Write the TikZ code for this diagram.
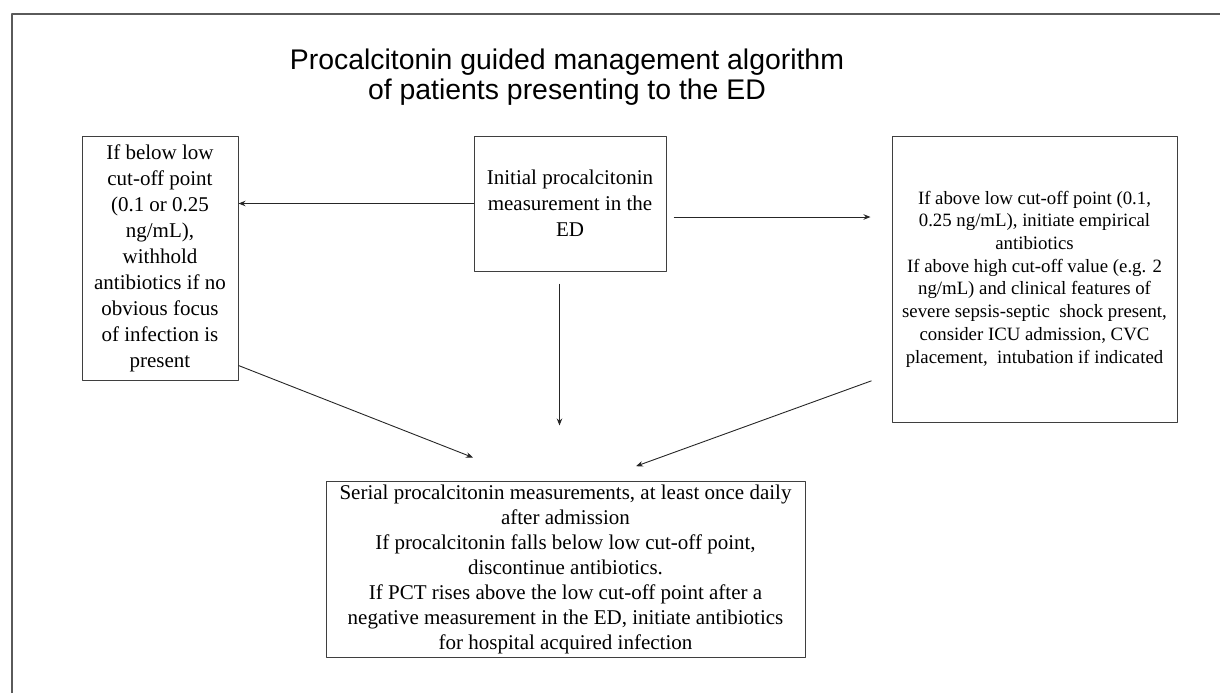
\documentclass[tikz,border=0pt]{standalone}
\usepackage{fontspec}
\setmainfont{Liberation Serif}
\newfontfamily\headfont{Liberation Sans}
\usetikzlibrary{arrows.meta}
\definecolor{edge}{HTML}{3F3F3F}
\definecolor{frame}{HTML}{5A5A5A}
\tikzset{
  every picture/.style={line join=round, >={Stealth[length=7pt,width=5.5pt]}},
  box/.style={draw=edge, line width=1pt, inner sep=0pt, align=center, font=\fontsize{21}{26}\selectfont},
  smallbox/.style={box, font=\fontsize{18.8}{22.7}\selectfont},
  link/.style={->, line width=0.9pt, draw=black!85},
}

\begin{document}
\begin{tikzpicture}[x=1pt,y=-1pt]
\useasboundingbox (0,0) rectangle (1220,693);
\draw[frame,line width=1.6pt] (12,693) -- (12,14) -- (1220,14);
\node[font=\headfont\fontsize{28.4}{30.5}\selectfont, align=center] (title) at (567,77)
  {Procalcitonin guided management algorithm\\of patients presenting to the ED};
\node[box, minimum width=192pt, minimum height=135pt] (init) at (570,203.5)
  {Initial procalcitonin\\measurement in the\\ED};
\node[box, minimum width=156pt, minimum height=244pt] (below) at (160,258)
  {If below low\\cut-off point\\(0.1 or 0.25\\ng/mL),\\withhold\\antibiotics if no\\obvious focus\\of infection is\\present};
\node[smallbox, minimum width=285pt, minimum height=286pt] (above) at (1034.5,279)
  {If above low cut-off point (0.1,\\0.25 ng/mL), initiate empirical\\antibiotics\\If above high cut-off value (e.g. 2\\ng/mL) and clinical features of\\severe sepsis-septic\ \ shock present,\\consider ICU admission, CVC\\placement,\ \ intubation if indicated};
\node[box, minimum width=479pt, minimum height=176pt, font=\fontsize{21}{25}\selectfont] (serial) at (565.5,569)
  {Serial procalcitonin measurements, at least once daily\\after admission\\If procalcitonin falls below low cut-off point,\\discontinue antibiotics.\\If PCT rises above the low cut-off point after a\\negative measurement in the ED, initiate antibiotics\\for hospital acquired infection};
\draw[link] (init.west) -- (init.west -| below.east);
\draw[link, shorten <=7pt, shorten >=21pt] ([yshift=-13.5pt]init.east) -- ([yshift=-13.5pt]init.east -| above.west);
\draw[link, shorten <=12pt, shorten >=55pt] ([xshift=-10.5pt]init.south) -- ([xshift=-10.5pt]init.south |- serial.north);
\draw[link] ([yshift=15pt]below.south east) -- ([xshift=-92.5pt,yshift=23pt]serial.north);
\draw[link] ([xshift=-20pt,yshift=41.7pt]above.south west) -- ([xshift=70.5pt,yshift=14.3pt]serial.north);
\end{tikzpicture}
\end{document}
